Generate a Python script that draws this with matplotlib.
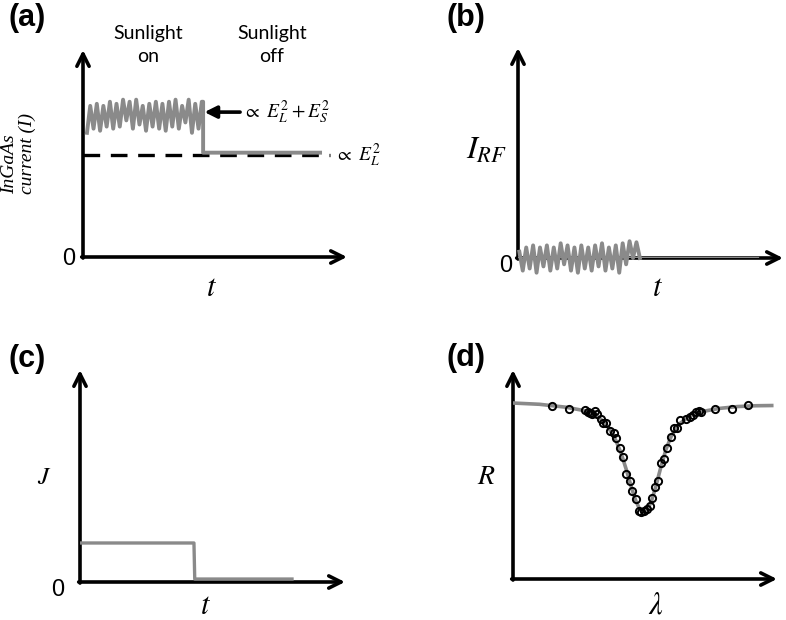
import numpy as np
import matplotlib
matplotlib.use("Agg")
import matplotlib.pyplot as plt

plt.rcParams['mathtext.fontset'] = 'stix'

W, H = 786, 620

# ---------------- data ----------------
# (a) InGaAs current: noisy signal while sunlight on, flat level after
a_noise_y = [6.0, 7.3, 6.2, 7.4, 6.1, 7.3, 6.3, 7.5, 6.2, 7.4, 6.3, 7.6,
             6.6, 7.5, 6.2, 7.6, 6.4, 7.3, 6.1, 7.4, 6.3, 7.5, 6.2, 7.4,
             6.1, 7.5, 6.3, 7.6, 6.2, 7.3, 6.5, 7.6, 6.0, 7.4, 6.2, 7.5]
a_noise_start, a_noise_end = 0.15, 4.50
a_step_t = 4.55
a_off_level = 5.04
a_off_end = 8.98
a_ref_level = 4.93
a_ref_end = 9.36

# (b) RF current: noise around zero, then zero
b_noise_y = [0.3, -0.6, 0.5, -0.5, 0.6, -0.7, 0.5, -0.4, 0.6, -0.6, 0.5, -0.5,
             0.7, -0.3, 0.6, -0.6, 0.5, -0.7, 0.6, -0.5, 0.5, -0.6, 0.6, -0.4,
             0.7, -0.6, 0.5, -0.5, 0.6, -0.7, 0.7, -0.3, 0.8, 0.0, 0.75, 0.0]
b_noise_start, b_noise_end = 0.05, 4.6
b_zero_end = 9.0

# (c) J: step function
c_t = [0.0, 4.3, 4.33, 8.0]
c_j = [1.84, 1.84, 0.14, 0.14]

# (d) reflectance spectrum: measured points and fitted curve
d_lam = [1.49, 2.11, 2.71, 2.84, 2.93, 3.00, 3.09, 3.19, 3.32, 3.42, 3.53,
         3.69, 3.81, 3.91, 4.04, 4.15, 4.29, 4.42, 4.52, 4.65, 4.76, 4.86,
         4.96, 5.06, 5.18, 5.28, 5.38, 5.49, 5.59, 5.71, 5.83, 5.97, 6.09,
         6.20, 6.34, 6.56, 6.69, 6.82, 6.94, 7.05, 7.13, 7.66, 8.30, 8.90]
d_R = [8.26, 8.15, 8.09, 8.01, 7.96, 7.89, 8.04, 7.89, 7.64, 7.48, 7.48,
       7.07, 6.97, 6.76, 6.28, 5.85, 5.01, 4.69, 4.23, 3.81, 3.24, 3.19,
       3.24, 3.35, 3.49, 3.86, 4.42, 4.70, 5.54, 5.74, 6.25, 6.81, 7.21,
       7.21, 7.61, 7.66, 7.77, 7.85, 8.01, 8.04, 7.98, 8.12, 8.15, 8.34]
d_fit_lam = [0.0, 1.0, 2.0, 2.6, 3.0, 3.3, 3.6, 3.9, 4.1, 4.3, 4.5, 4.65,
             4.8, 4.9, 5.0, 5.1, 5.25, 5.4, 5.6, 5.8, 6.0, 6.3, 6.7, 7.2,
             7.8, 8.5, 9.2, 9.8]
d_fit_R = [8.42, 8.36, 8.22, 8.08, 7.92, 7.68, 7.28, 6.62, 6.00, 5.20, 4.32,
           3.75, 3.33, 3.22, 3.22, 3.34, 3.75, 4.38, 5.35, 6.22, 6.85, 7.42,
           7.80, 8.02, 8.16, 8.25, 8.29, 8.30]

GRAY = '#8a8a8a'

fig = plt.figure(figsize=(W / 100, H / 100), dpi=100)


def fx(x):
    return x / W


def fy(y):
    return 1 - y / H


def make_ax(cx, cy, tx, ty):
    ax = fig.add_axes([cx / W, 1 - cy / H, (tx - cx) / W, (cy - ty) / H])
    ax.set_xlim(0, 10)
    ax.set_ylim(0, 10)
    ax.axis('off')
    ap = dict(arrowstyle='->', lw=2.6, color='black', mutation_scale=22,
              shrinkA=0, shrinkB=0)
    ax.annotate('', xy=(1, 0), xytext=(-0.005, 0), xycoords='axes fraction',
                arrowprops=ap)
    ax.annotate('', xy=(0, 1), xytext=(0, -0.005), xycoords='axes fraction',
                arrowprops=ap)
    return ax


# ---------- (a) ----------
axa = make_ax(83, 257, 347, 50)
ta = np.linspace(a_noise_start, a_noise_end, len(a_noise_y))
axa.plot([0.0, a_ref_end], [a_ref_level, a_ref_level], color='black', lw=2.4,
         dashes=(5, 3.2), zorder=2)
axa.plot(list(ta) + [a_step_t, a_step_t, a_off_end],
         list(a_noise_y) + [a_noise_y[-1], a_off_level, a_off_level],
         color=GRAY, lw=2.8, zorder=3)
axa.annotate('', xy=(4.6, 7.0), xytext=(5.95, 7.0), xycoords='data',
             arrowprops=dict(arrowstyle='-|>', lw=2.6, color='black',
                             mutation_scale=18, shrinkA=0, shrinkB=0))
axa.text(6.05, 7.0, r'$\propto\ E_L^2 + E_S^2$', fontsize=14, va='center',
         ha='left')
axa.text(9.55, 4.93, r'$\propto\ E_L^2$', fontsize=14, va='center', ha='left')

# ---------- (b) ----------
axb = make_ax(518, 258, 783, 48)
tb = np.linspace(b_noise_start, b_noise_end, len(b_noise_y))
axb.plot([0, b_zero_end], [0, 0], color=GRAY, lw=2.4, zorder=3)
axb.plot(tb, b_noise_y, color=GRAY, lw=2.8, zorder=4, clip_on=False)

# ---------- (c) ----------
axc = make_ax(80, 582, 345, 370)
axc.plot(c_t, c_j, color=GRAY, lw=2.4, zorder=3)

# ---------- (d) ----------
axd = make_ax(513, 579, 777, 370)
axd.plot(d_fit_lam, d_fit_R, color=GRAY, lw=2.6, zorder=3)
axd.plot(d_lam, d_R, 'o', ms=5.2, mfc='none', mec='black', mew=1.4, zorder=4)

# ---------- texts ----------
lab = dict(fontsize=22, fontweight='bold', family='Liberation Sans',
           va='center', ha='left')
fig.text(fx(8), fy(18), '(a)', **lab)
fig.text(fx(446), fy(18), '(b)', **lab)
fig.text(fx(8), fy(359), '(c)', **lab)
fig.text(fx(446), fy(358), '(d)', **lab)

sun = dict(fontsize=14, family='Lato', ha='center', va='center')
fig.text(fx(148), fy(34), 'Sunlight', **sun)
fig.text(fx(148), fy(57), 'on', **sun)
fig.text(fx(272), fy(34), 'Sunlight', **sun)
fig.text(fx(272), fy(57), 'off', **sun)

zero = dict(fontsize=17, family='Liberation Sans', ha='center', va='center')
fig.text(fx(69), fy(259), '0', **zero)
fig.text(fx(506), fy(266), '0', **zero)
fig.text(fx(58), fy(590), '0', **zero)

fig.text(fx(212), fy(287), r'$t$', fontsize=22, ha='center', va='center')
fig.text(fx(658), fy(287), r'$t$', fontsize=22, ha='center', va='center')
fig.text(fx(206), fy(606), r'$t$', fontsize=22, ha='center', va='center')
fig.text(fx(656), fy(605), r'$\lambda$', fontsize=22, ha='center', va='center')

fig.text(fx(487), fy(150), r'$I_{RF}$', fontsize=23, ha='center', va='center')
fig.text(fx(44), fy(477), r'$J$', fontsize=18, ha='center', va='center')
fig.text(fx(486), fy(476), r'$R$', fontsize=20, ha='center', va='center')

yl = dict(fontsize=14, family='Liberation Serif', style='italic', rotation=90,
          rotation_mode='anchor', ha='left', va='center')
fig.text(fx(10), fy(194), 'InGaAs', **yl)
fig.text(fx(27), fy(194), 'current (I)', **yl)

fig.savefig('out.png', dpi=100)
